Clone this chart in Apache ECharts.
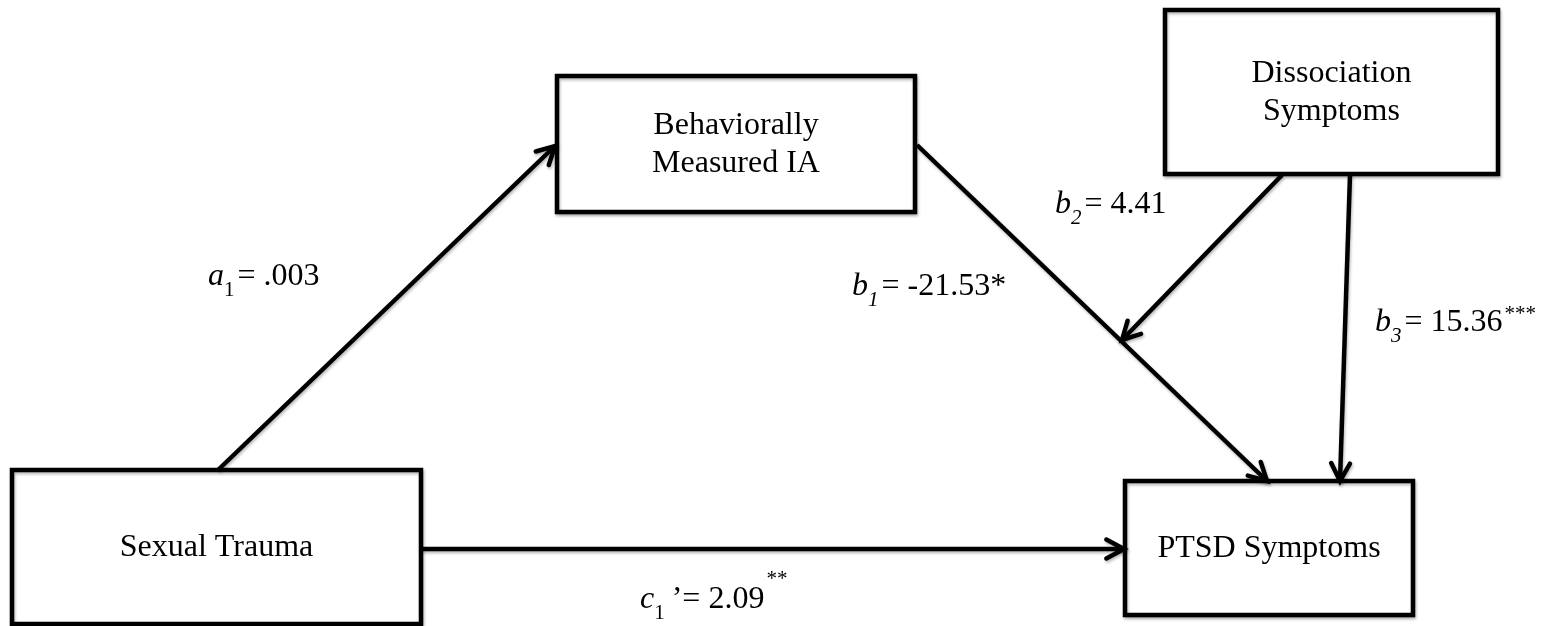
<!DOCTYPE html>
<html><head><meta charset="utf-8">
<script src="https://cdn.jsdelivr.net/npm/echarts@6/dist/echarts.min.js"></script>
<style>html,body{margin:0;padding:0;background:#fff}#c{width:1545px;height:626px}</style>
</head><body><div id="c"></div>
<script>
// ---- data ----
const nodeNames = ['Sexual Trauma', 'Behaviorally\nMeasured IA', 'Dissociation\nSymptoms', 'PTSD Symptoms'];
const pathLetters = ['a', 'b', 'b', 'b', 'c'];
const pathSubscripts = ['1', '1', '2', '3', '1'];
const pathPrimes = ['', '', '', '', '\u2019'];
const pathCoefficients = ['.003', '-21.53', '4.41', '15.36', '2.09'];
const pathStars = ['', '*', '', '***', '**'];

// ---- layout (diagram units) ----
const boxLayout = [[12,470,421,624],[557,76,915,212],[1165,10,1498,174],[1125,481,1413,615]];
const arrowLayout = [[218,470,555,146],[917,145,1267,481],[1282,175,1122,340],[1350,175,1340,481],[421,549,1124,549]];
const labelLayout = [[208,287],[852,297],[1055,215],[1375,333],[640,610]];
const subItalic = [false, true, true, true, false];
const starsSup = [false, false, false, true, true];
const starOffset = [0, 0, 0, -11, -23];
const primeGap = [3, 3, 3, 3, 7];

const FONT = '"Liberation Serif","Times New Roman",serif';
const FS = 32, SFS = 21;
const mctx = document.createElement('canvas').getContext('2d');
const shadow = {shadowColor:'rgba(0,0,0,0.28)', shadowBlur:3, shadowOffsetX:1, shadowOffsetY:2};

function renderBox(params, api) {
  const i = params.dataIndex;
  const b = boxLayout[i];
  const p0 = api.coord([b[0], b[1]]), p1 = api.coord([b[2], b[3]]);
  const x = Math.min(p0[0], p1[0]), y = Math.min(p0[1], p1[1]);
  const w = Math.abs(p1[0]-p0[0]), h = Math.abs(p1[1]-p0[1]);
  return {type:'group', children:[
    {type:'rect', shape:{x, y, width:w, height:h}, style:Object.assign({fill:'#fff', stroke:'#000', lineWidth:4.5}, shadow)},
    {type:'text', x:x+w/2, y:y+h/2+1, style:{text:nodeNames[i], font:FS+'px '+FONT, fill:'#000', align:'center', verticalAlign:'middle', lineHeight:38}}
  ]};
}

function renderArrow(params, api) {
  const i = params.dataIndex;
  const L = arrowLayout[i];
  const a = api.coord([L[0], L[1]]), b = api.coord([L[2], L[3]]);
  const ang = Math.atan2(b[1]-a[1], b[0]-a[0]);
  const len = 20, h = 28*Math.PI/180;
  const q1 = [b[0]-len*Math.cos(ang-h), b[1]-len*Math.sin(ang-h)];
  const q2 = [b[0]-len*Math.cos(ang+h), b[1]-len*Math.sin(ang+h)];
  return {type:'group', children:[
    {type:'line', shape:{x1:a[0], y1:a[1], x2:b[0], y2:b[1]}, style:Object.assign({stroke:'#000', lineWidth:4.5, lineCap:'butt'}, shadow)},
    {type:'polyline', shape:{points:[q1, b, q2]}, style:Object.assign({stroke:'#000', fill:null, lineWidth:4.5, lineJoin:'miter', lineCap:'round'}, shadow)}
  ]};
}

function renderLabel(params, api) {
  const i = params.dataIndex;
  const p = api.coord([labelLayout[i][0], labelLayout[i][1]]);
  let x = p[0]; const base = p[1];
  const children = [];
  function add(text, font, fs, dy) {
    children.push({type:'text', x, y: base + dy - 0.34*fs, style:{text, font, fill:'#000', align:'left', verticalAlign:'middle'}});
    mctx.font = font; x += mctx.measureText(text).width;
  }
  add(pathLetters[i], 'italic '+FS+'px '+FONT, FS, 0);
  add(pathSubscripts[i], (subItalic[i] ? 'italic ' : '') + SFS+'px '+FONT, SFS, 11);
  x += primeGap[i];
  add(pathPrimes[i] + '= ' + pathCoefficients[i] + (starsSup[i] ? '' : pathStars[i]), FS+'px '+FONT, FS, 0);
  if (starsSup[i]) { x += 2; add(pathStars[i], SFS+'px '+FONT, SFS, starOffset[i]); }
  return {type:'group', children};
}

const chart = echarts.init(document.getElementById('c'), null, {renderer:'canvas'});
chart.setOption({
  animation:false,
  backgroundColor:'#fff',
  grid:{left:0, right:0, top:0, bottom:0},
  xAxis:{type:'value', min:0, max:1545, show:false},
  yAxis:{type:'value', min:0, max:626, inverse:true, show:false},
  series:[
    {type:'custom', renderItem:renderBox, clip:false, z:1,
     data: boxLayout.map(b => [(b[0]+b[2])/2, (b[1]+b[3])/2])},
    {type:'custom', renderItem:renderArrow, clip:false, z:2,
     data: arrowLayout.map(a => [a[2], a[3]])},
    {type:'custom', renderItem:renderLabel, clip:false, z:3,
     data: labelLayout.map(l => [l[0], l[1]])}
  ]
});
</script>
</body></html>
